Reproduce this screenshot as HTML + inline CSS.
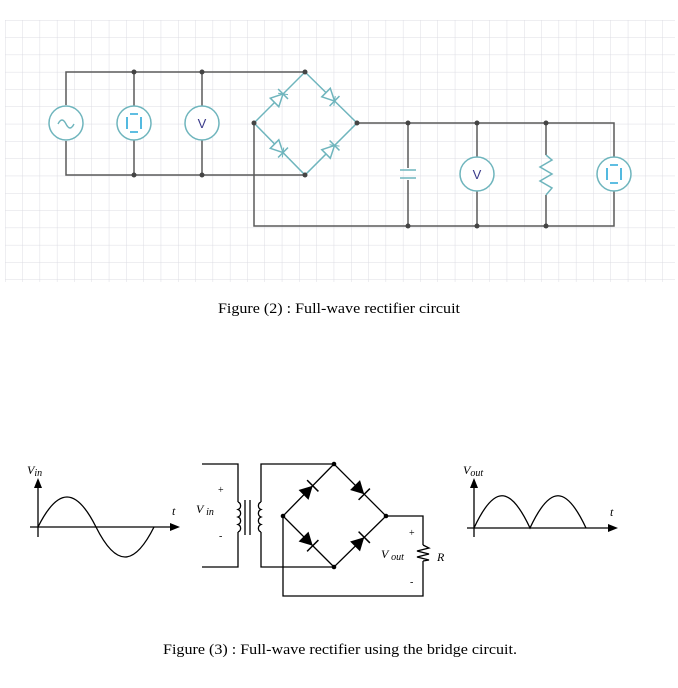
<!DOCTYPE html>
<html><head><meta charset="utf-8"><style>
body{margin:0;background:#fff;width:678px;height:688px;overflow:hidden}
svg{display:block}
</style></head><body>
<svg width="678" height="688" viewBox="0 0 678 688" xmlns="http://www.w3.org/2000/svg" font-family="Liberation Serif, serif">
<defs>
<pattern id="g" x="5" y="20" width="17.3" height="17.3" patternUnits="userSpaceOnUse">
<path d="M0 0H17.3M0 0V17.3" stroke="#dcdce3" stroke-width="1" fill="none"/>
</pattern>
<g id="dio"><polygon points="-7,-6 -7,6 5,0" fill="#fff" stroke="#6fb5bd" stroke-width="1.5"/><line x1="5" y1="-7" x2="5" y2="7" stroke="#6fb5bd" stroke-width="1.5"/><line x1="2" y1="-4" x2="8" y2="4" stroke="#6fb5bd" stroke-width="1"/></g>
<g id="bd"><polygon points="-7,-7 -7,7 6,0" fill="#000"/><line x1="6" y1="-8" x2="6" y2="8" stroke="#000" stroke-width="1.5"/></g>
</defs>
<rect x="5" y="20" width="670" height="262" fill="url(#g)"/>
<g stroke="#5a5a5a" stroke-width="1.5" fill="none">
<path d="M66 105V72H305M66 141V175H305"/>
<path d="M134 72V106M134 140V175M202 72V106M202 140V175"/>
<path d="M254 123V226H614V191M357 123H614V157"/>
<path d="M408 123V168M408 180V226M477 123V157M477 191V226M546 123V155M546 195V226"/>
</g>
<g stroke="#6fb5bd" stroke-width="1.5" fill="none">
<path d="M254 123L305 72L357 123L305 175Z"/>
</g>
<use href="#dio" transform="translate(279.5,97.5) rotate(-45)"/>
<use href="#dio" transform="translate(331,97.5) rotate(45)"/>
<use href="#dio" transform="translate(279.5,149) rotate(45)"/>
<use href="#dio" transform="translate(331,149) rotate(-45)"/>
<g stroke="#6fb5bd" stroke-width="1.5" fill="#fff">
<circle cx="66" cy="123" r="17"/><circle cx="134" cy="123" r="17"/><circle cx="202" cy="123" r="17"/>
<circle cx="477" cy="174" r="17"/><circle cx="614" cy="174" r="17"/>
<path d="M400 170H416M400 178H416" fill="none"/>
<path d="M546 155L552 160L540 167L552 174L540 181L552 188L546 195" fill="none"/>
</g>
<path d="M58 124q4-8 8 0t8 0" stroke="#6fb5bd" stroke-width="1.4" fill="none"/>
<g stroke="#2aa8d8" stroke-width="1.6" fill="none">
<path d="M127 117v12M141 117v12M130 114h8M130 132h8"/>
<path d="M607 168v12M621 168v12M610 165h8M610 183h8"/>
</g>
<text x="202" y="128" font-family="Liberation Sans,sans-serif" font-size="13" fill="#3a3a8a" text-anchor="middle">V</text>
<text x="477" y="179" font-family="Liberation Sans,sans-serif" font-size="13" fill="#3a3a8a" text-anchor="middle">V</text>
<g fill="#444">
<circle cx="134" cy="72" r="2.5"/><circle cx="202" cy="72" r="2.5"/><circle cx="305" cy="72" r="2.5"/>
<circle cx="134" cy="175" r="2.5"/><circle cx="202" cy="175" r="2.5"/><circle cx="305" cy="175" r="2.5"/>
<circle cx="254" cy="123" r="2.5"/><circle cx="357" cy="123" r="2.5"/>
<circle cx="408" cy="123" r="2.5"/><circle cx="477" cy="123" r="2.5"/><circle cx="546" cy="123" r="2.5"/>
<circle cx="408" cy="226" r="2.5"/><circle cx="477" cy="226" r="2.5"/><circle cx="546" cy="226" r="2.5"/>
</g>
<text x="218" y="313" font-size="15" textLength="242" lengthAdjust="spacingAndGlyphs">Figure (2) : Full-wave rectifier circuit</text>

<g stroke="#000" stroke-width="1.3" fill="none">
<path d="M38 537V484M30 527H174"/>
<path d="M38 527C58 487 76 487 96 527C116 567 134 567 154 527"/>
<path d="M474 537V484M467 528H612"/>
<path d="M474 528C494 485 510 485 530 528C550 485 566 485 586 528"/>
<path d="M202 464H238V502M238 532V567H202"/>
<path d="M238 502a4 4 0 0 1 0 7.5a4 4 0 0 1 0 7.5a4 4 0 0 1 0 7.5a4 4 0 0 1 0 7.5"/>
<path d="M245 500V535M250 500V535"/>
<path d="M261 502a4 4 0 0 0 0 7.5a4 4 0 0 0 0 7.5a4 4 0 0 0 0 7.5a4 4 0 0 0 0 7.5"/>
<path d="M261 502V464H334L386 516L334 567H261V532"/>
<path d="M334 464L283 516L334 567"/>
<path d="M283 516V596H423V561M386 516H423V545"/>
<path d="M423 545L429 548L417 551L429 554L417 557L429 560L423 561"/>
</g>
<polygon points="38,478 34,488 42,488" fill="#000"/>
<polygon points="180,527 170,523 170,531" fill="#000"/>
<polygon points="474,478 470,488 478,488" fill="#000"/>
<polygon points="618,528 608,524 608,532" fill="#000"/>
<use href="#bd" transform="translate(308.5,490) rotate(-45)"/>
<use href="#bd" transform="translate(360,490) rotate(45)"/>
<use href="#bd" transform="translate(308.5,541.5) rotate(45)"/>
<use href="#bd" transform="translate(360,541.5) rotate(-45)"/>
<g fill="#000"><circle cx="334" cy="464" r="2.3"/><circle cx="283" cy="516" r="2.3"/><circle cx="386" cy="516" r="2.3"/><circle cx="334" cy="567" r="2.3"/></g>
<g font-style="italic" font-size="12">
<text x="27" y="474">V<tspan font-size="10" dy="2">in</tspan></text>
<text x="463" y="474">V<tspan font-size="10" dy="2">out</tspan></text>
<text x="172" y="515">t</text>
<text x="610" y="516">t</text>
<text x="196" y="513">V <tspan font-size="10" dy="2">in</tspan></text>
<text x="381" y="558">V <tspan font-size="10" dy="2">out</tspan></text>
<text x="437" y="561">R</text>
</g>
<g font-size="10"><text x="218" y="493">+</text><text x="219" y="539">-</text><text x="409" y="536">+</text><text x="410" y="585">-</text></g>
<text x="163" y="654" font-size="15" textLength="354" lengthAdjust="spacingAndGlyphs">Figure (3) :  Full-wave rectifier using the bridge circuit.</text>
</svg>
</body></html>
